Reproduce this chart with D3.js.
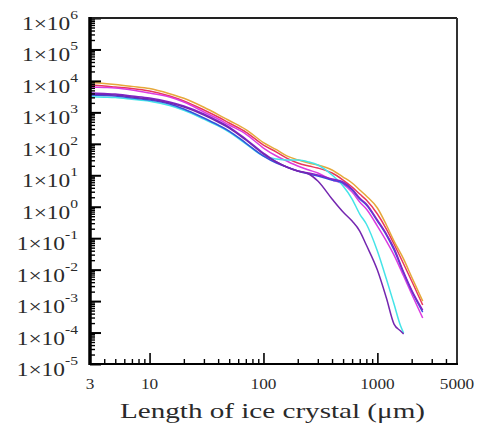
<!DOCTYPE html>
<html>
<head>
<meta charset="utf-8">
<script src="https://cdn.jsdelivr.net/npm/d3@7"></script>
<style>
body{margin:0;background:#fff;}
svg{display:block;}
</style>
</head>
<body>
<svg></svg>
<script>
const total_width = 480;
const total_height = 424;
const plot_left = 90, plot_right = 457, plot_top = 18, plot_bottom = 364;
const serif = '"Liberation Serif","Times New Roman",serif';

// data ///////////////////
const sizes = [3,4,5,7,10,15,20,30,40,50,70,100,130,160,200,250,300,400,500,600,700,800,1000,1200,1400,1600,1700,2000,2500];

const orange  = [8900,8300,7700,6700,5700,3900,2800,1450,850,550,285,110,65,41.5,31,24.5,21.2,14.7,8.79,5.67,3.40,2.19,0.91,0.262,0.081,null,0.0217,0.00582,0.00100];
const red     = [7400,6900,6400,5730,4770,3310,2300,1190,711,458,237,91.6,54.8,35.3,24.5,19.7,17.0,11.8,7.06,4.23,2.53,1.63,0.586,0.195,0.0652,null,0.0151,0.00434,0.000748];
const magenta = [6400,6170,5950,5140,4120,3080,2130,1030,615,396,205,73.5,40.9,28.4,19.7,14.7,11.8,7.06,5.27,2.93,1.41,0.845,0.243,0.081,0.0291,null,0.00627,0.00168,0.000289];
const purple  = [4120,3970,3830,3310,2860,2130,1590,887,531,342,142,50.9,26.4,18.3,13.6,11.8,10.2,7.60,6.10,3.66,1.89,1.22,0.378,0.136,0.0486,null,0.00839,0.00224,0.000519];
const blue    = [3560,3440,3310,2860,2470,1850,1280,661,396,255,106,40.9,24.5,18.3,13.6,11.0,9.46,7.06,5.67,3.40,1.76,1.13,0.351,0.126,0.0420,null,0.00780,0.00209,0.000449];
const violet  = [3830,3700,3560,3080,2650,1980,1480,820,493,318,132,47.4,26.4,18.3,13.6,11.0,6.56,1.76,0.678,0.351,0.169,0.0605,0.00971,0.00125,0.000186,0.000112,0.0000895,null,null];
const cyan    = [3150,3050,2950,2600,2250,1650,1170,610,370,235,100,40.9,32.9,30.5,30.5,26.4,21.2,10.2,4.55,1.76,0.586,0.282,0.0390,0.00502,0.000805,0.000161,0.0000964,null,null];

const series_list = [
  {values: red,     color: '#e8385c'},
  {values: orange,  color: '#e6a83a'},
  {values: magenta, color: '#dc3ce0'},
  {values: cyan,    color: '#44e4e8'},
  {values: blue,    color: '#3452dc'},
  {values: purple,  color: '#8224c8'},
  {values: violet,  color: '#7426b0'}
];

const y_exponents = [6,5,4,3,2,1,0,-1,-2,-3,-4,-5];
const x_tick_labels = [3,10,100,1000,5000];
const x_major = [10,100,1000];
const x_minor = [4,5,6,7,8,9,20,30,40,50,60,70,80,90,200,300,400,500,600,700,800,900,2000,3000,4000];
const x_title = 'Length of ice crystal (\u03bcm)';

////////////////////////////////////
const svg = d3.select('svg')
  .attr('width', total_width)
  .attr('height', total_height);

const x = d3.scaleLog().domain([3,5000]).range([plot_left, plot_right]);
const y = d3.scaleLog().domain([1e-5,1e6]).range([plot_bottom, plot_top]);

const y_major = y_exponents.map(e => Math.pow(10, e));
const y_minor = [];
y_exponents.slice(1).forEach(e => {
  for (let k = 2; k <= 9; k++) y_minor.push(k * Math.pow(10, e));
});

// curves //////////////////////////
const line = d3.line()
  .x(d => x(d[0]))
  .y(d => y(d[1]))
  .curve(d3.curveMonotoneX);

svg.selectAll('.curve')
  .data(series_list)
  .enter()
  .append('path')
  .attr('class','curve')
  .attr('d', s => line(sizes.map((v,i) => [v, s.values[i]]).filter(p => p[1] !== null)))
  .attr('fill','none')
  .attr('stroke', s => s.color)
  .attr('stroke-width', 1.5)
  .attr('stroke-linejoin','round');

// ticks (inward) ///////////////////
svg.append('g')
  .attr('transform', `translate(${plot_left},0)`)
  .call(d3.axisLeft(y).tickValues(y_major).tickSize(-11).tickFormat(''))
  .call(g => g.select('.domain').remove())
  .call(g => g.selectAll('line').attr('stroke','#000').attr('stroke-width',2));

svg.append('g')
  .attr('transform', `translate(${plot_left},0)`)
  .call(d3.axisLeft(y).tickValues(y_minor).tickSize(-5).tickFormat(''))
  .call(g => g.select('.domain').remove())
  .call(g => g.selectAll('line').attr('stroke','#000').attr('stroke-width',1.4));

svg.append('g')
  .attr('transform', `translate(0,${plot_bottom})`)
  .call(d3.axisBottom(x).tickValues(x_major).tickSize(-11).tickFormat(''))
  .call(g => g.select('.domain').remove())
  .call(g => g.selectAll('line').attr('stroke','#000').attr('stroke-width',1.6));

svg.append('g')
  .attr('transform', `translate(0,${plot_bottom})`)
  .call(d3.axisBottom(x).tickValues(x_minor).tickSize(-5).tickFormat(''))
  .call(g => g.select('.domain').remove())
  .call(g => g.selectAll('line').attr('stroke','#000').attr('stroke-width',1.4));

// frame ///////////////////////////
svg.append('line')
  .attr('x1', plot_left).attr('y1', plot_top)
  .attr('x2', plot_right).attr('y2', plot_top)
  .attr('stroke','#222').attr('stroke-width',2);

svg.append('line')
  .attr('x1', plot_right).attr('y1', plot_top)
  .attr('x2', plot_right).attr('y2', plot_bottom)
  .attr('stroke','#333').attr('stroke-width',2);

svg.append('line')
  .attr('x1', plot_left).attr('y1', plot_bottom)
  .attr('x2', plot_right + 1).attr('y2', plot_bottom)
  .attr('stroke','#000').attr('stroke-width',2);

svg.append('line')
  .attr('x1', plot_left).attr('y1', plot_top - 1)
  .attr('x2', plot_left).attr('y2', plot_bottom + 1)
  .attr('stroke','#000').attr('stroke-width',3.5);

// labels //////////////////////////
const ylab = svg.selectAll('.ylab')
  .data(y_exponents)
  .enter()
  .append('text')
  .attr('class','ylab')
  .attr('transform', d => `translate(78,${y(Math.pow(10,d)) + 12}) scale(1.3,1)`)
  .attr('text-anchor','end')
  .attr('font-family', serif)
  .attr('fill','#2a2a2a');

ylab.append('tspan')
  .attr('font-size','18px')
  .text('1\u00d710');

ylab.append('tspan')
  .attr('font-size','12px')
  .attr('dy', -11)
  .text(d => d);

svg.selectAll('.xlab')
  .data(x_tick_labels)
  .enter()
  .append('text')
  .attr('class','xlab')
  .attr('transform', d => `translate(${x(d)},389) scale(1.15,1)`)
  .attr('text-anchor','middle')
  .attr('font-family', serif)
  .attr('font-size','15px')
  .attr('fill','#2a2a2a')
  .text(d => d);

svg.append('text')
  .attr('x', 120)
  .attr('y', 418)
  .attr('textLength', 305)
  .attr('lengthAdjust','spacingAndGlyphs')
  .attr('font-family', serif)
  .attr('font-size','21px')
  .attr('fill','#2a2a2a')
  .text(x_title);
</script>
</body>
</html>
